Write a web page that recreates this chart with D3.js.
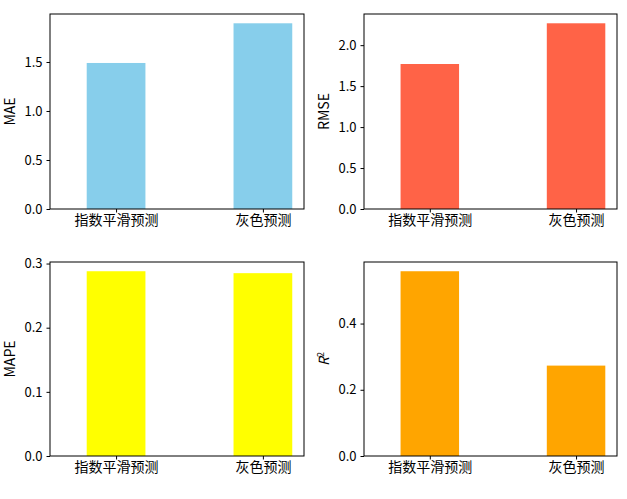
<!DOCTYPE html><html><head><meta charset="utf-8">
<script src="https://d3js.org/d3.v7.min.js"></script>
<style>body{margin:0;background:#fff}text{font-family:"Noto Sans CJK SC",sans-serif;fill:#000}</style></head><body>
<svg id="c" width="627" height="499"></svg>
<script>
const categories=["指数平滑预测","灰色预测"];
const maeValues=[1.49,1.895];
const rmseValues=[1.77,2.267];
const mapeValues=[0.288,0.285];
const r2Values=[0.558,0.273];
const maeTicks=[0,0.5,1.0,1.5];
const rmseTicks=[0,0.5,1.0,1.5,2.0];
const mapeTicks=[0,0.1,0.2,0.3];
const r2Ticks=[0,0.2,0.4];
const svg=d3.select("#c");
const panels=[
 {vals:maeValues,ticks:maeTicks,fmt:".1f",label:"MAE",color:"#87ceeb",x0:50,x1:304,y0:14,y1:209},
 {vals:rmseValues,ticks:rmseTicks,fmt:".1f",label:"RMSE",color:"#ff6347",x0:364,x1:617,y0:14,y1:209},
 {vals:mapeValues,ticks:mapeTicks,fmt:".1f",label:"MAPE",color:"#ffff00",x0:50,x1:304,y0:262,y1:456},
 {vals:r2Values,ticks:r2Ticks,fmt:".1f",label:"R2",color:"#ffa500",x0:364,x1:617,y0:262,y1:456}];
panels.forEach(p=>{
 const x=d3.scaleLinear().domain([-0.45,1.28]).range([p.x0,p.x1]);
 const y=d3.scaleLinear().domain([0,d3.max(p.vals)*1.05]).range([p.y1,p.y0]);
 const g=svg.append("g");
 g.selectAll("rect").data(p.vals).join("rect")
  .attr("x",(d,i)=>x(i-0.2)).attr("width",x(0.4)-x(0))
  .attr("y",d=>y(d)).attr("height",d=>y(0)-y(d)).attr("fill",p.color);
 g.append("rect").attr("x",p.x0).attr("y",p.y0).attr("width",p.x1-p.x0).attr("height",p.y1-p.y0)
  .attr("fill","none").attr("stroke","#000").attr("stroke-width",1);
 const ya=g.append("g").attr("transform",`translate(${p.x0},0)`)
  .call(d3.axisLeft(y).tickValues(p.ticks).tickFormat(d3.format(p.fmt)).tickSize(3.5).tickPadding(4));
 ya.select(".domain").remove();
 ya.selectAll("text").style("font-size","13px");
 const xa=g.append("g").attr("transform",`translate(0,${p.y1})`)
  .call(d3.axisBottom(x).tickValues([0,1]).tickFormat(i=>categories[i]).tickSize(3.5).tickPadding(3));
 xa.select(".domain").remove();
 xa.selectAll("text").style("font-size","14px");
 const lx=p.x0-35, ly=(p.y0+p.y1)/2;
 const t=g.append("text").attr("transform",`translate(${lx},${ly}) rotate(-90)`).attr("text-anchor","middle").style("font-size","14px");
 if(p.label==="R2"){t.append("tspan").attr("font-style","italic").text("R");t.append("tspan").attr("dy",-5).style("font-size","9px").text("2");}
 else t.text(p.label);
});
</script></body></html>
